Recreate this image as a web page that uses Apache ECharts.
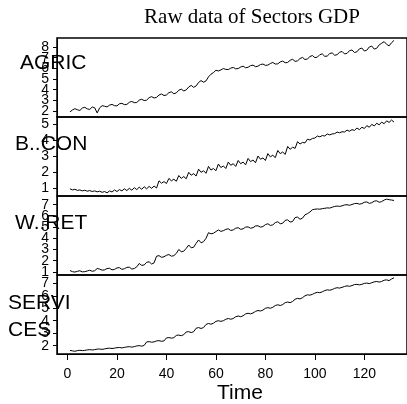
<!DOCTYPE html>
<html>
<head>
<meta charset="utf-8">
<script src="https://cdn.jsdelivr.net/npm/echarts@6/dist/echarts.min.js"></script>
<style>
    html, body { margin: 0; padding: 0; background: #fff; }
    #gdp { width: 407px; height: 404px; }
</style>
</head>
<body>
<div id="gdp"></div>
<script>
// 季度数据 t = 1..132
var agric = [1.92,2.10,2.22,2.12,2.05,2.28,2.35,2.20,2.15,2.38,2.30,1.82,
    2.30,2.50,2.45,2.38,2.55,2.62,2.50,2.48,2.68,2.72,2.60,2.62,
    2.82,2.90,2.78,2.80,3.02,3.10,2.98,3.02,3.25,3.35,3.22,3.28,
    3.50,3.60,3.45,3.50,3.72,3.80,3.62,3.70,3.95,4.05,3.88,3.98,
    4.25,4.40,4.22,4.35,4.68,4.85,4.70,4.82,5.20,5.45,5.60,5.82,
    5.75,5.85,5.98,5.90,5.88,6.02,6.08,5.95,5.98,6.12,6.20,6.05,
    6.10,6.25,6.30,6.15,6.20,6.35,6.40,6.28,6.30,6.45,6.55,6.40,
    6.42,6.60,6.68,6.52,6.55,6.75,6.85,6.65,6.70,6.92,7.02,6.82,
    6.88,7.10,7.20,7.00,7.05,7.28,7.35,7.12,7.15,7.38,7.45,7.22,
    7.28,7.50,7.58,7.35,7.40,7.65,7.72,7.48,7.55,7.82,7.90,7.62,
    7.70,8.00,8.08,7.80,7.88,8.20,8.35,8.50,8.25,8.10,8.40,8.62];
var bcon = [0.95,0.88,0.92,0.85,0.88,0.82,0.86,0.80,0.84,0.78,0.82,0.76,
    0.80,0.73,0.78,0.70,0.82,0.75,0.88,0.78,0.90,0.82,0.95,0.84,
    0.98,0.86,1.02,0.90,1.05,0.92,1.08,0.95,1.10,0.98,1.12,1.00,
    1.45,1.30,1.40,1.28,1.60,1.45,1.55,1.42,1.78,1.60,1.72,1.58,
    1.98,1.80,1.90,1.75,2.18,1.98,2.08,1.92,2.35,2.12,2.22,2.08,
    2.50,2.28,2.38,2.22,2.62,2.42,2.52,2.35,2.72,2.52,2.62,2.45,
    2.85,2.65,2.75,2.58,3.00,2.80,2.88,2.72,3.15,2.95,3.05,2.90,
    3.35,3.15,3.25,3.10,3.60,3.42,3.55,3.48,3.90,3.75,3.85,3.82,
    4.05,4.00,4.10,4.12,4.25,4.20,4.28,4.25,4.38,4.32,4.38,4.40,
    4.50,4.45,4.52,4.50,4.62,4.55,4.65,4.60,4.75,4.65,4.80,4.72,
    4.90,4.80,4.98,4.88,5.05,4.95,5.12,5.02,5.20,5.10,5.25,5.12];
var wret = [1.12,1.02,0.98,1.05,1.10,1.00,1.02,1.08,1.15,1.05,1.10,1.30,
    1.25,1.15,1.18,1.30,1.32,1.18,1.22,1.35,1.38,1.22,1.28,1.40,
    1.42,1.25,1.30,1.45,1.75,1.58,1.62,1.85,1.90,1.70,1.80,2.40,
    2.45,2.30,2.35,2.48,2.55,2.40,2.45,2.65,3.00,2.80,2.85,3.10,
    3.40,3.15,3.20,3.55,3.85,3.60,3.70,4.00,4.50,4.40,4.45,4.60,
    4.75,4.62,4.68,4.80,4.85,4.70,4.75,4.90,4.95,4.80,4.85,5.00,
    5.02,4.90,4.95,5.10,5.12,5.00,5.05,5.22,5.30,5.15,5.20,5.40,
    5.48,5.30,5.35,5.60,5.65,5.45,5.50,5.85,5.90,5.70,5.80,6.10,
    6.20,6.35,6.55,6.60,6.62,6.60,6.65,6.68,6.72,6.70,6.78,6.85,
    6.88,6.85,6.90,6.98,7.00,6.95,7.02,7.10,7.12,7.05,7.10,7.22,
    7.25,7.12,7.18,7.32,7.35,7.22,7.28,7.42,7.50,7.45,7.42,7.38];
var services = [1.62,1.58,1.55,1.60,1.63,1.60,1.62,1.66,1.68,1.65,1.68,1.72,
    1.73,1.70,1.74,1.78,1.80,1.77,1.80,1.84,1.85,1.82,1.86,1.90,
    1.92,1.88,1.92,1.98,2.00,1.96,2.02,2.30,2.32,2.28,2.30,2.38,
    2.40,2.35,2.38,2.62,2.65,2.60,2.64,2.82,2.85,2.80,2.88,3.10,
    3.12,3.05,3.12,3.40,3.45,3.38,3.45,3.70,3.78,3.72,3.80,3.95,
    4.00,3.95,4.00,4.12,4.18,4.12,4.18,4.32,4.38,4.32,4.40,4.55,
    4.60,4.55,4.62,4.75,4.82,4.78,4.85,5.00,5.05,5.00,5.08,5.22,
    5.28,5.22,5.30,5.45,5.50,5.45,5.55,5.72,5.80,5.75,5.85,6.00,
    6.08,6.05,6.12,6.22,6.28,6.25,6.32,6.42,6.48,6.45,6.50,6.60,
    6.65,6.62,6.68,6.75,6.80,6.76,6.82,6.90,6.92,6.88,6.92,7.00,
    7.02,6.98,7.05,7.12,7.15,7.10,7.15,7.25,7.28,7.22,7.35,7.45];

var names = ['AGRIC', 'B..CON', 'W..RET', 'SERVI\nCES'];
var yTicks = [[2,3,4,5,6,7,8], [1,2,3,4,5], [1,2,3,4,5,6,7], [2,3,4,5,6,7]];
var yRange = [[1.44, 8.84], [0.50, 5.44], [0.72, 7.78], [1.33, 7.67]];
var xTicks = [0, 20, 40, 60, 80, 100, 120];

var myChart = echarts.init(document.getElementById('gdp'), null, {renderer: 'canvas'});

var allData = [agric, bcon, wret, services];
var panelTop = [38, 117, 196, 275];
var panelH = 79;
var labelPos = [[20, 62], [15, 143], [15, 222], [8, 316]];

function yAxisFor(i, vals, lineOn) {
    return {
        gridIndex: i, type: 'value', position: 'left', offset: 0,
        min: yRange[i][0], max: yRange[i][1],
        axisLine: {show: lineOn, onZero: false, lineStyle: {color: '#000', width: 1}},
        axisTick: {show: true, length: 4, customValues: vals, lineStyle: {color: '#000'}},
        axisLabel: {customValues: vals, margin: 8, hideOverlap: false,
            showMinLabel: true, showMaxLabel: true,
            fontFamily: 'Liberation Sans', fontSize: 14, color: '#000'},
        splitLine: {show: false}
    };
}

var grids = [], xAxes = [], yAxes = [], series = [], texts = [];
for (var i = 0; i < 4; i++) {
    grids.push({
        left: 57, top: panelTop[i], width: 353, height: panelH,
        show: true, borderColor: '#000', borderWidth: 1.5, backgroundColor: 'transparent'
    });
    var last = (i === 3);
    xAxes.push({
        gridIndex: i, type: 'value', min: -4.24, max: 137.24,
        show: true,
        axisLine: {show: last, onZero: false, lineStyle: {color: '#000', width: 1}},
        axisTick: {show: last, length: 6, customValues: xTicks, lineStyle: {color: '#000'}},
        axisLabel: {show: last, customValues: xTicks, margin: 13,
            fontFamily: 'Liberation Sans', fontSize: 14, color: '#000'},
        splitLine: {show: false}
    });
    // 刻度标签太挤会被自动隐藏，所以拆成两条重合的轴：隔一个取一个
    var evenT = yTicks[i].filter(function (v, j) { return j % 2 === 0; });
    var oddT = yTicks[i].filter(function (v, j) { return j % 2 === 1; });
    var yi = yAxes.length;
    yAxes.push(yAxisFor(i, evenT, true));
    yAxes.push(yAxisFor(i, oddT, false));
    var pts = [];
    for (var k = 0; k < allData[i].length; k++) {
        pts.push([k + 1, allData[i][k]]);
    }
    series.push({
        type: 'line', xAxisIndex: i, yAxisIndex: yi, data: pts,
        showSymbol: false, symbol: 'none', animation: false,
        lineStyle: {color: '#000', width: 1}
    });
    texts.push({
        type: 'text', left: labelPos[i][0], top: labelPos[i][1] - (i === 3 ? 26 : 12),
        style: {text: names[i], font: '21px "Liberation Sans"', fill: '#000', lineHeight: 27}
    });
}

// 标题和横轴名
texts.push({
    type: 'text', x: 252, y: 17,
    style: {text: 'Raw data of Sectors GDP', font: '21px "Liberation Serif"', fill: '#000',
        textAlign: 'center', textVerticalAlign: 'middle'}
});
texts.push({
    type: 'text', x: 240, y: 393,
    style: {text: 'Time', font: '21px "Liberation Sans"', fill: '#000',
        textAlign: 'center', textVerticalAlign: 'middle'}
});

var option = {
    animation: false,
    grid: grids,
    xAxis: xAxes,
    yAxis: yAxes,
    series: series,
    graphic: texts
};
myChart.setOption(option, true);
</script>
</body>
</html>
